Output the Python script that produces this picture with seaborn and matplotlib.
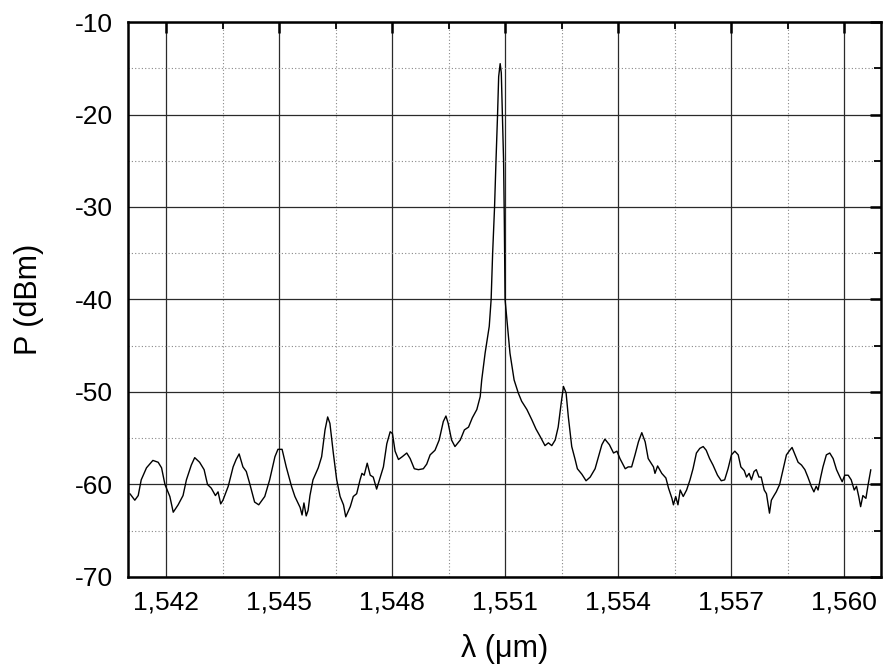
import numpy as np
import pandas as pd
import matplotlib
matplotlib.use("Agg")
import matplotlib.pyplot as plt
import seaborn as sns
from matplotlib.ticker import MultipleLocator, FuncFormatter

# spectrum (wavelength in um, power in dBm)
wavelength = [
    1.54104, 1.54117, 1.54126, 1.54134, 1.54148, 1.54165, 1.54179, 1.54188, 1.54197, 1.54210,
    1.54219, 1.54232, 1.54245, 1.54254, 1.54267, 1.54276, 1.54289, 1.54301, 1.54310, 1.54320,
    1.54331, 1.54338, 1.54345, 1.54351, 1.54365, 1.54378, 1.54386, 1.54394, 1.54404, 1.54413,
    1.54422, 1.54435, 1.54446, 1.54462, 1.54475, 1.54489, 1.54497, 1.54508, 1.54519, 1.54533,
    1.54542, 1.54550, 1.54556, 1.54561, 1.54566, 1.54572, 1.54577, 1.54582, 1.54590, 1.54604,
    1.54613, 1.54622, 1.54629, 1.54635, 1.54644, 1.54653, 1.54662, 1.54671, 1.54677, 1.54689,
    1.54697, 1.54706, 1.54715, 1.54720, 1.54726, 1.54734, 1.54742, 1.54750, 1.54759, 1.54768,
    1.54777, 1.54786, 1.54795, 1.54801, 1.54808, 1.54817, 1.54827, 1.54839, 1.54848, 1.54859,
    1.54870, 1.54883, 1.54892, 1.54901, 1.54914, 1.54925, 1.54936, 1.54943, 1.54949, 1.54958,
    1.54967, 1.54981, 1.54992, 1.55003, 1.55013, 1.55025, 1.55034, 1.55038, 1.55047, 1.55058,
    1.55063, 1.55067, 1.55072, 1.55076, 1.55080, 1.55083, 1.55087, 1.55090, 1.55093, 1.55096,
    1.55098, 1.55100, 1.55105, 1.55113, 1.55124, 1.55135, 1.55144, 1.55158, 1.55171, 1.55182,
    1.55193, 1.55206, 1.55215, 1.55224, 1.55233, 1.55241, 1.55249, 1.55255, 1.55262, 1.55268,
    1.55277, 1.55286, 1.55292, 1.55304, 1.55315, 1.55326, 1.55339, 1.55348, 1.55357, 1.55365,
    1.55377, 1.55388, 1.55397, 1.55405, 1.55419, 1.55427, 1.55436, 1.55445, 1.55454, 1.55463,
    1.55472, 1.55480, 1.55494, 1.55498, 1.55505, 1.55516, 1.55527, 1.55534, 1.55543, 1.55547,
    1.55553, 1.55559, 1.55565, 1.55573, 1.55582, 1.55591, 1.55599, 1.55608, 1.55617, 1.55626,
    1.55634, 1.55643, 1.55652, 1.55664, 1.55674, 1.55683, 1.55692, 1.55701, 1.55710, 1.55719,
    1.55726, 1.55735, 1.55741, 1.55748, 1.55754, 1.55761, 1.55767, 1.55774, 1.55780, 1.55788,
    1.55794, 1.55800, 1.55802, 1.55807, 1.55814, 1.55820, 1.55829, 1.55838, 1.55847, 1.55856,
    1.55862, 1.55869, 1.55878, 1.55887, 1.55896, 1.55904, 1.55913, 1.55920, 1.55926, 1.55931,
    1.55938, 1.55944, 1.55953, 1.55962, 1.55971, 1.55980, 1.55989, 1.55995, 1.56002, 1.56011,
    1.56019, 1.56027, 1.56033, 1.56039, 1.56044, 1.56050, 1.56058, 1.56064, 1.56071,
]
power = [
    -61.0, -61.7, -61.2, -59.5, -58.2, -57.4, -57.6, -58.2, -60.0, -61.3,
    -63.0, -62.2, -61.2, -59.5, -57.9, -57.1, -57.6, -58.4, -60.0, -60.4,
    -61.2, -60.8, -62.1, -61.7, -60.2, -58.1, -57.3, -56.7, -58.1, -58.6,
    -59.9, -61.9, -62.2, -61.3, -59.5, -57.0, -56.2, -56.2, -58.1, -60.2,
    -61.3, -62.0, -62.5, -63.3, -62.0, -63.4, -62.8, -61.2, -59.5, -58.2,
    -57.0, -54.1, -52.7, -53.4, -56.6, -59.5, -61.3, -62.2, -63.5, -62.4,
    -61.3, -61.0, -59.5, -58.8, -59.0, -57.7, -59.0, -59.2, -60.5, -59.3,
    -58.1, -55.6, -54.3, -54.5, -56.4, -57.3, -57.0, -56.6, -57.2, -58.3,
    -58.4, -58.3, -57.8, -56.8, -56.3, -55.2, -53.2, -52.6, -53.4, -55.2,
    -55.9, -55.2, -54.1, -53.8, -52.8, -51.9, -50.5, -48.7, -45.8, -42.9,
    -40.0, -35.0, -30.1, -24.9, -20.1, -15.9, -14.5, -15.5, -20.1, -24.9,
    -31.4, -40.0, -42.2, -45.8, -48.7, -50.1, -51.0, -51.9, -53.0, -54.0,
    -54.8, -55.8, -55.5, -55.8, -55.2, -53.8, -51.2, -49.4, -50.1, -52.7,
    -55.9, -57.3, -58.3, -58.9, -59.6, -59.2, -58.3, -57.0, -55.7, -55.1,
    -55.7, -56.6, -56.4, -57.2, -58.3, -58.1, -58.1, -56.8, -55.4, -54.4,
    -55.4, -57.2, -58.1, -58.8, -58.0, -58.8, -59.3, -60.4, -61.5, -62.2,
    -61.3, -62.2, -60.6, -61.3, -60.6, -59.5, -58.3, -56.6, -56.1, -55.9,
    -56.3, -57.2, -57.9, -59.0, -59.6, -59.5, -58.3, -56.8, -56.4, -56.8,
    -58.1, -58.5, -59.2, -58.8, -59.5, -58.6, -58.4, -59.2, -59.2, -60.6,
    -61.0, -62.6, -63.1, -61.7, -61.2, -60.8, -60.0, -58.4, -56.8, -56.3,
    -56.0, -56.7, -57.6, -57.9, -58.4, -59.2, -60.2, -60.8, -60.2, -60.6,
    -59.2, -58.1, -56.8, -56.6, -57.2, -58.4, -59.2, -59.7, -59.0, -59.0,
    -59.5, -60.6, -60.2, -61.3, -62.4, -61.2, -61.5, -60.0, -58.4,
]

df = pd.DataFrame({"wl": wavelength, "p": power})

sns.set_theme(style="white")
plt.rcParams['font.family'] = ['Liberation Sans', 'DejaVu Sans']
plt.rcParams['axes.unicode_minus'] = False
plt.rcParams['text.color'] = 'black'
plt.rcParams['axes.labelcolor'] = 'black'
plt.rcParams['xtick.color'] = 'black'
plt.rcParams['ytick.color'] = 'black'

fig = plt.figure(figsize=(8.83, 6.67), dpi=100)
ax = fig.add_axes([0.145, 0.135, 0.8527, 0.832])

sns.lineplot(data=df, x="wl", y="p", ax=ax, color="black", linewidth=1.0,
             estimator=None, sort=False)

ax.set_xlim(1.54099, 1.56098)
ax.set_ylim(-70, -10)

ax.xaxis.set_major_locator(MultipleLocator(0.003))
ax.xaxis.set_minor_locator(MultipleLocator(0.0015))
ax.yaxis.set_major_locator(MultipleLocator(10))
ax.yaxis.set_minor_locator(MultipleLocator(5))
ax.xaxis.set_major_formatter(FuncFormatter(lambda v, pos: f"{v:.3f}".replace(".", ",")))
ax.yaxis.set_major_formatter(FuncFormatter(lambda v, pos: f"{v:.0f}"))

ax.grid(which="major", color="#2a2a2a", linestyle="-", linewidth=0.9)
ax.grid(which="minor", color="#888888", linestyle=(0, (1, 2)), linewidth=0.8)
ax.set_axisbelow(True)

ax.tick_params(which="major", direction="in", length=8, width=1.8, top=True, right=True,
               labelsize=19, pad=10, colors="black")
ax.tick_params(which="minor", direction="in", length=5, width=1.3, top=True, right=True,
               colors="black")
ax.tick_params(axis="y", which="major", pad=11)

for s in ax.spines.values():
    s.set_linewidth(1.8)
    s.set_color("black")

ax.set_xlabel("λ (μm)", fontsize=22, labelpad=14)
ax.set_ylabel("P (dBm)", fontsize=22, labelpad=22)

fig.savefig("out.png", dpi=100)
